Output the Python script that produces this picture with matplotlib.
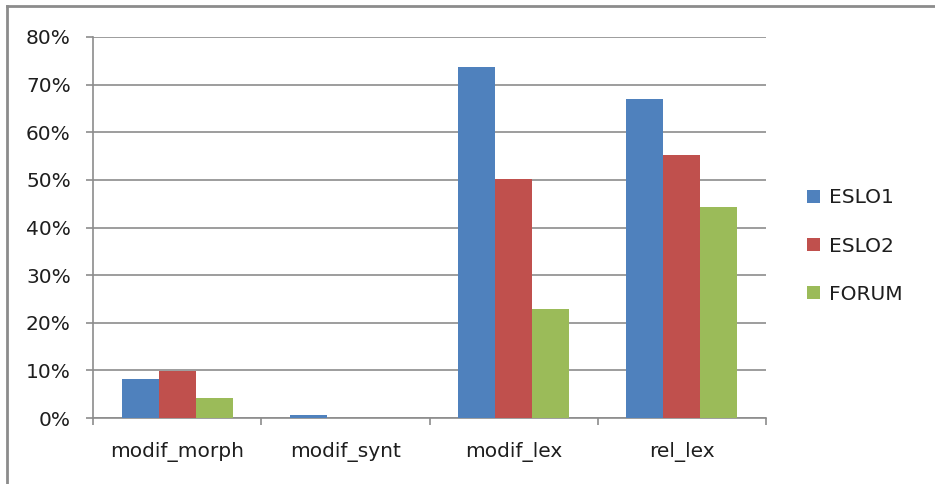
import numpy as np
import matplotlib
matplotlib.use("Agg")
import matplotlib.pyplot as plt
from matplotlib.lines import Line2D
from matplotlib.patches import Patch

# ------------ DATA -------------------
categories = ["modif_morph", "modif_synt", "modif_lex", "rel_lex"]
eslo1 = [8.2, 0.6, 73.6, 66.9]
eslo2 = [9.9, 0.0, 50.2, 55.2]
forum = [4.2, 0.0, 22.9, 44.2]
series_names = ["ESLO1", "ESLO2", "FORUM"]
colors = ["#4F81BD", "#C0504D", "#9BBB59"]
yticks = [0, 10, 20, 30, 40, 50, 60, 70, 80]

plt.rcParams['font.family'] = ['DejaVu Sans']
grid_col = "#8c8c8c"
txt_col = "#1e1e1e"
fs = 14.5

W, H = 935, 484
fig = plt.figure(figsize=(W/100, H/100), dpi=100)
ax = fig.add_axes([93/W, (H-418)/H, (766-93)/W, (418-37)/H])

x = np.arange(len(categories))
bw = 0.22
for i, (vals, name, c) in enumerate(zip([eslo1, eslo2, forum], series_names, colors)):
    ax.bar(x + (i-1)*bw, vals, width=bw, color=c, label=name, zorder=3)

ax.set_xlim(-0.5, len(categories)-0.5)
ax.set_ylim(0, 80)
ax.set_yticks(yticks)
ax.set_yticklabels([f"{v}%" for v in yticks], fontsize=fs, color=txt_col)
ax.yaxis.grid(True, color=grid_col, linewidth=1.2, zorder=0)

# category labels centred, tick marks on boundaries
ax.set_xticks(x)
ax.set_xticklabels(categories, fontsize=fs, color=txt_col)
ax.tick_params(axis='x', length=0, pad=17)
ax.set_xticks(np.arange(-0.5, len(categories)), minor=True)
ax.tick_params(axis='x', which='minor', length=5, color=grid_col, width=1.2)
ax.tick_params(axis='y', length=5, color=grid_col, width=1.2, pad=11)

for s in ['top', 'right']:
    ax.spines[s].set_visible(False)
for s in ['left', 'bottom']:
    ax.spines[s].set_color(grid_col)
    ax.spines[s].set_linewidth(1.2)

handles = [Patch(facecolor=c, edgecolor='none') for c in colors]
fig.legend(handles, series_names, loc='center left', bbox_to_anchor=(789/W, 1-246/H),
           frameon=False, fontsize=fs, handlelength=0.65, handleheight=0.65,
           handletextpad=0.45, labelspacing=1.45, labelcolor=txt_col)

# outer chart border (top and left visible)
fig.add_artist(Line2D([7/W, 1], [1-6/H, 1-6/H], color="#8c8c8c", linewidth=2, transform=fig.transFigure))
fig.add_artist(Line2D([7/W, 7/W], [0, 1-6/H], color="#8c8c8c", linewidth=2, transform=fig.transFigure))

fig.savefig("out.png", dpi=100)
